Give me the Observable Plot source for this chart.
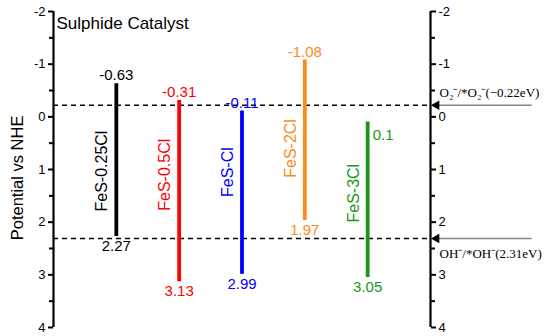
<!DOCTYPE html>
<html>
<head>
<meta charset="utf-8">
<script src="https://cdn.jsdelivr.net/npm/d3@7"></script>
<script src="https://cdn.jsdelivr.net/npm/@observablehq/plot@0.6"></script>
<style>
  html, body { margin: 0; padding: 0; background: #fff; }
  #chart svg { font-family: "Liberation Sans", Arial, sans-serif; }
</style>
</head>
<body>
<div id="chart"></div>
<script>
// ---- data ----
const names = ["FeS-0.25Cl", "FeS-0.5Cl", "FeS-Cl", "FeS-2Cl", "FeS-3Cl"];
const cbValues = [-0.63, -0.31, -0.11, -1.08, 0.1];   // top (conduction band)
const vbValues = [2.27, 3.13, 2.99, 1.97, 3.05];     // bottom (valence band)
const nameLevels = [1.03, 1.1, 1.05, 0.6, 1.45];     // where each name sits
const colors = ["#000000", "#ff0000", "#0000ff", "#ff8a1c", "#1a961a"];
const refLevels = [-0.22, 2.31];
const refLabels = ["O\u2082\u207B/*O\u2082\u207B(\u22120.22eV)", "OH\u207B/*OH\u207B(2.31eV)"];
const yTicks = [-2, -1, 0, 1, 2, 3, 4];
const yMinorTicks = [-1.5, -0.5, 0.5, 1.5, 2.5, 3.5];

const rows = names.map((n, i) => ({
  name: n, pos: i + 1, top: cbValues[i], bottom: vbValues[i],
  level: nameLevels[i], color: colors[i]
}));
const refs = refLevels.map((v, i) => ({ v, label: refLabels[i], i }));

const arrowEnd = 7.62;
const serif = "Liberation Serif, Times New Roman, serif";

const plot = Plot.plot({
  width: 550,
  height: 336,
  marginLeft: 53,
  marginRight: 120,
  marginTop: 11,
  marginBottom: 9,
  x: { domain: [0, 6], axis: null },
  y: { domain: [-2, 4], reverse: true },
  style: { fontFamily: "Liberation Sans, Arial, sans-serif", background: "#fff" },
  marks: [
    // axes
    Plot.axisY({ anchor: "left", ticks: yTicks, tickSize: 5, tickPadding: 3, fontSize: 13,
      strokeWidth: 2, tickFormat: d => String(d), label: null, color: "#000" }),
    Plot.axisY({ anchor: "left", ticks: yMinorTicks, tickSize: 4, strokeWidth: 2,
      tickFormat: () => "", label: null }),
    Plot.axisY({ anchor: "right", ticks: yTicks, tickSize: 5, tickPadding: 3, fontSize: 13,
      strokeWidth: 2, tickFormat: d => String(d), label: null, color: "#000" }),
    Plot.axisY({ anchor: "right", ticks: yMinorTicks, tickSize: 4, strokeWidth: 2,
      tickFormat: () => "", label: null }),
    Plot.ruleX([0, 6], { stroke: "#000", strokeWidth: 2.2 }),

    // reference dashed lines
    Plot.ruleY(refs, { y: "v", x1: 0, x2: 6, stroke: "#000", strokeWidth: 1.3, strokeDasharray: "5,4" }),
    // arrows (gray lines + filled heads)
    Plot.ruleY(refs, { y: "v", x1: 6.1, x2: arrowEnd, stroke: "#888", strokeWidth: 1.5 }),
    Plot.dot(refs, { x: 6, y: "v", symbol: "triangle", r: 3.6, fill: "#000", stroke: "none", rotate: -90, dx: 6 }),
    Plot.text(refs.filter(d => d.i === 0), { x: 6, y: "v", text: "label", textAnchor: "start", dx: 9,
      dy: -12, fontFamily: serif, fontSize: 13, fill: "#000" }),
    Plot.text(refs.filter(d => d.i === 1), { x: 6, y: "v", text: "label", textAnchor: "start", dx: 9,
      dy: 15, fontFamily: serif, fontSize: 13, fill: "#000" }),

    // band bars
    Plot.ruleX(rows, { x: "pos", y1: "top", y2: "bottom", stroke: "color", strokeWidth: 3.8 }),
    // top labels (above for negative values, beside for positive)
    Plot.text(rows.filter(d => d.top <= 0), { x: "pos", y: "top", text: d => String(d.top), fill: "color",
      fontSize: 15, dy: -8 }),
    Plot.text(rows.filter(d => d.top > 0), { x: "pos", y: "top", text: d => String(d.top), fill: "color",
      fontSize: 15, textAnchor: "start", dx: 5, dy: 13 }),
    // bottom labels
    Plot.text(rows, { x: "pos", y: "bottom", text: d => String(d.bottom), fill: "color", fontSize: 15, dy: 10 }),
    // rotated names
    Plot.text(rows, { x: "pos", y: "level", text: "name", fill: "color", fontSize: 16, rotate: -90, dx: -14 }),

    // titles
    Plot.text(["Sulphide Catalyst"], { frameAnchor: "top-left", text: d => d, textAnchor: "start",
      dx: 3, dy: 5, fontSize: 17, fill: "#000" }),
    Plot.text(["Potential vs NHE"], { x: 0, y: 1.16, text: d => d, rotate: -90, dx: -36, fontSize: 16.5, fill: "#000" })
  ]
});
document.getElementById("chart").appendChild(plot);
</script>
</body>
</html>
